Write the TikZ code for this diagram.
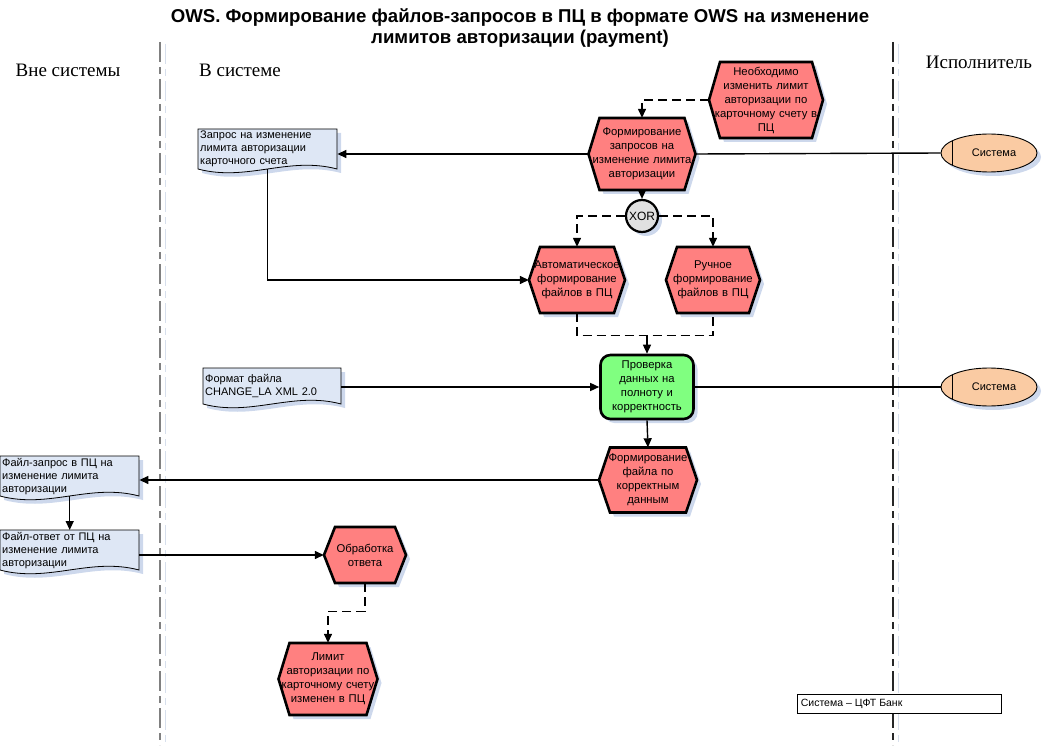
\documentclass[tikz,border=0pt]{standalone}
\usepackage{fontspec}
\setmainfont{Liberation Sans}
\newfontfamily\lanefont{Liberation Serif}
\usetikzlibrary{arrows.meta,shapes.geometric,shadows,calc}
\definecolor{hexred}{RGB}{255,128,128}
\definecolor{chkgreen}{RGB}{128,255,128}
\definecolor{docblue}{RGB}{222,231,245}
\definecolor{shadowc}{RGB}{205,216,236}
\definecolor{orgpeach}{RGB}{250,203,163}
\definecolor{xorgray}{RGB}{224,224,224}
\definecolor{lanegray}{RGB}{128,128,128}
\definecolor{lanelight}{RGB}{215,223,236}
\tikzset{
  hexfill/.style={fill=hexred,draw=black,line width=2.6pt,line join=miter},
  hexshadow/.style={fill=shadowc},
  hextext/.style={inner sep=0pt,align=center,font=\fontsize{11.3}{14}\selectfont},
  docshape/.style={fill=docblue,draw=black,line width=0.8pt},
  doctext/.style={inner xsep=2pt,inner ysep=0pt,align=left,font=\fontsize{11}{13}\selectfont},
  softshadow/.style={drop shadow={shadow xshift=4pt,shadow yshift=-4pt,fill=shadowc,opacity=1}},
  flow/.style={line width=1.4pt,-{Triangle[length=9pt,width=8pt]}},
  flowplain/.style={line width=1.4pt},
  ctrl/.style={line width=1.4pt,dash pattern=on 9pt off 5pt,-{Triangle[length=9pt,width=8pt]}},
  ctrlplain/.style={line width=1.4pt,dash pattern=on 9pt off 5pt},
  lane/.style={lanegray,line width=1.8pt,dash pattern=on 20pt off 5pt on 7pt off 5pt},
  lanecomp/.style={lanelight,line width=0.8pt,dash pattern=on 20pt off 5pt on 7pt off 5pt},
  lanelabel/.style={font=\lanefont\fontsize{19}{22}\selectfont},
  orgunit/.style={ellipse,fill=orgpeach,draw=black,line width=0.9pt,minimum width=96pt,minimum height=38pt,inner sep=0pt,softshadow},
  orgtext/.style={font=\fontsize{11}{13}\selectfont,inner sep=0pt},
  check/.style={rectangle,rounded corners=10pt,fill=chkgreen,draw=black,line width=2.6pt,minimum width=93pt,minimum height=64pt,text width=89pt,align=center,inner sep=0pt,font=\fontsize{11.3}{14}\selectfont,softshadow},
  xorgate/.style={circle,fill=xorgray,draw=black,line width=2.2pt,minimum size=32pt,inner sep=0pt,font=\fontsize{12}{13}\selectfont,softshadow},
  legendbox/.style={rectangle,draw=black,fill=white,line width=0.8pt,minimum width=204pt,minimum height=19pt,inner sep=0pt},
  titletext/.style={align=center,font=\bfseries\fontsize{18.6}{21}\selectfont}
}
\newcommand\hexbox[6]{%
  \pgfmathsetmacro\hxL{#2-#4/2}%
  \pgfmathsetmacro\hxR{#2+#4/2}%
  \pgfmathsetmacro\hxLi{#2-#4/2+11}%
  \pgfmathsetmacro\hxRi{#2+#4/2-11}%
  \pgfmathsetmacro\hyT{#3-#5/2}%
  \pgfmathsetmacro\hyB{#3+#5/2}%
  \fill[hexshadow,shift={(4,4)}] (\hxL,#3) -- (\hxLi,\hyT) -- (\hxRi,\hyT) -- (\hxR,#3) -- (\hxRi,\hyB) -- (\hxLi,\hyB) -- cycle;
  \draw[hexfill] (\hxL,#3) -- (\hxLi,\hyT) -- (\hxRi,\hyT) -- (\hxR,#3) -- (\hxRi,\hyB) -- (\hxLi,\hyB) -- cycle;
  \node[hextext,minimum width=#4,minimum height=#5,text width=#4pt] (#1) at (#2,#3) {#6};
}
\newcommand\docbox[6]{%
  \pgfmathsetmacro\dxR{#2+#4}%
  \pgfmathsetmacro\dyB{#3+#5}%
  \pgfmathsetmacro\dcA{#2+#4*0.65}%
  \pgfmathsetmacro\dcB{#2+#4*0.35}%
  \pgfmathsetmacro\dyU{#3+#5-13}%
  \pgfmathsetmacro\dyD{#3+#5+13}%
  \pgfmathsetmacro\dtW{#4-4}%
  \fill[shadowc,shift={(4,4)}] (#2,#3) -- (\dxR,#3) -- (\dxR,\dyB) .. controls (\dcA,\dyU) and (\dcB,\dyD) .. (#2,\dyB) -- cycle;
  \draw[docshape] (#2,#3) -- (\dxR,#3) -- (\dxR,\dyB) .. controls (\dcA,\dyU) and (\dcB,\dyD) .. (#2,\dyB) -- cycle;
  \node[doctext,anchor=north west,minimum width=#4,minimum height=#5,text width=\dtW pt] (#1) at (#2,#3) {#6};
}
\begin{document}
\begin{tikzpicture}[x=1pt,y=-1pt]
\useasboundingbox (0,0) rectangle (1042,749);
% swimlanes
\draw[lanecomp] (165,44) -- (165,745);
\draw[lane] (160,42) -- (160,745);
\draw[lanecomp] (898,44) -- (898,745);
\draw[lane,black!85,line width=1.2pt] (893,42) -- (893,745);
% title and lane labels
\node[titletext] (title) at (520,28) {OWS. Формирование файлов-запросов в ПЦ в формате OWS на изменение\\лимитов авторизации (payment)};
\node[lanelabel] (lout) at (68,70) {Вне системы};
\node[lanelabel] (lin) at (240,70) {В системе};
\node[lanelabel] (lexe) at (979,62) {Исполнитель};
% functions / events
\hexbox{E0}{766}{100}{114}{76}{Необходимо\\изменить лимит\\авторизации по\\карточному счету в\\ПЦ}
\hexbox{F1}{642}{154}{107}{72}{Формирование\\запросов на\\изменение лимита\\авторизации}
\hexbox{A1}{577}{280}{96}{66}{Автоматическое\\формирование\\файлов в ПЦ}
\hexbox{R1}{713}{280}{94}{66}{Ручное\\формирование\\файлов в ПЦ}
\hexbox{F2}{648}{480}{98}{65}{Формирование\\файла по\\корректным\\данным}
\hexbox{O1}{365}{555}{82}{56}{Обработка\\ответа}
\hexbox{L1}{328}{679}{99}{72}{Лимит\\авторизации по\\карточному счету\\изменен в ПЦ}
\node[xorgate] (X) at (642,216) {XOR};
\node[check] (P) at (647,387) {Проверка\\данных на\\полноту и\\корректность};
% documents
\docbox{D1}{198}{129}{139}{40}{Запрос на изменение\\лимита авторизации\\карточного счета}
\docbox{D2}{203}{368}{138}{36}{Формат файла\\CHANGE\_LA XML 2.0}
\docbox{D3}{0}{456}{139}{40}{Файл-запрос в ПЦ на\\изменение лимита\\авторизации}
\docbox{D4}{0}{530}{139}{40}{Файл-ответ от ПЦ на\\изменение лимита\\авторизации}
% organisational units
\node[orgunit] (S1) at (989,153) {};
\draw[line width=0.9pt] ($(S1.center)+(-37,-12)$) -- ($(S1.center)+(-37,12)$);
\node[orgtext] (S1t) at ($(S1.center)+(5,0)$) {Система};
\node[orgunit] (S2) at (989,387) {};
\draw[line width=0.9pt] ($(S2.center)+(-37,-12)$) -- ($(S2.center)+(-37,12)$);
\node[orgtext] (S2t) at ($(S2.center)+(5,0)$) {Система};
% connectors
\draw[ctrl] (E0.west) -| (F1.north);
\draw[flow] (F1.west) -- (F1.west -| D1.east);
\draw[flowplain] (F1.east) -- (S1.west);
\draw[flow] (F1.south) -- (X.north);
\draw[ctrl] (X.west) -| (A1.north);
\draw[ctrl] (X.east) -| (R1.north);
\draw[flow] (D1.south) |- (A1.west);
\coordinate (M) at ($(P.north)+(0,-18)$);
\draw[ctrlplain] (A1.south) |- (R1.south |- M) -- (R1.south);
\draw[ctrl] (M) -- (P.north);
\draw[flow] (P.west -| D2.east) -- (P.west);
\draw[flowplain] (P.east) -- (S2.west);
\draw[flow] (P.south) -- (F2.north);
\draw[flow] (F2.west) -- (F2.west -| D3.east);
\draw[flow] (D3.south) -- (D4.north);
\draw[flow] (O1.west -| D4.east) -- (O1.west);
\coordinate (K) at ($(O1.south)+(0,28)$);
\draw[ctrl] (O1.south) -- (K) -| (L1.north);
% legend
\node[legendbox] (leg) at (899,703.5) {};
\node[anchor=west,inner sep=0pt,font=\fontsize{10.5}{12}\selectfont] (legt) at ($(leg.west)+(4,0)$) {Система – ЦФТ Банк};
\end{tikzpicture}
\end{document}
